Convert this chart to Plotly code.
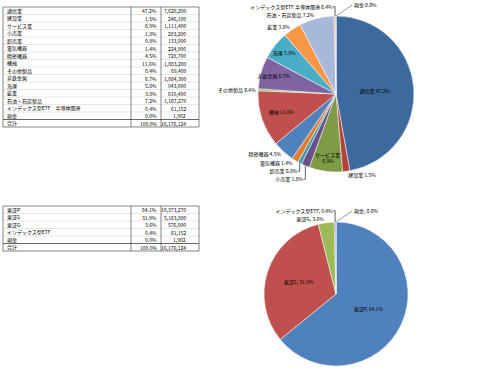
import plotly.graph_objects as go

# Table / pie 1 data
sectors = ["通信業", "建設業", "サービス業", "小売業", "卸売業", "電気機器", "精密機器", "機械",
           "その他製品", "非鉄金属", "海運", "鉱業", "石油・石炭製品", "インデックス型ETF　半導体関連", "現金"]
sector_values = [7628200, 246100, 1111400, 283200, 133000, 224900, 728700, 1883200,
                 69400, 1084300, 943000, 610400, 1167270, 61152, 1902]
sector_colors = ["#3C6A9E", "#B3423F", "#7E9B45", "#6A5089", "#3B9AB3", "#E07F32",
                 "#4F81BD", "#C0504D", "#9BBB59", "#8064A2", "#4BACC6", "#F79646",
                 "#A7B9D9", "#D99795", "#C3D69B"]
sector_textpos = ["inside", "outside", "inside", "outside", "outside", "outside", "outside", "inside",
                  "outside", "inside", "inside", "outside", "outside", "outside", "none"]

# Table / pie 2 data
markets = ["東証P", "東証S", "東証G", "インデックス型ETF", "現金"]
market_values = [10373270, 5163800, 576000, 61152, 1902]
market_colors = ["#4F81BD", "#C0504D", "#9BBB59", "#8064A2", "#4BACC6"]
market_textpos = ["inside", "inside", "outside", "outside", "none"]

FONT = "Noto Sans CJK JP"
W, H = 480, 382


def px(x):
    return x / W


def py(y):
    return 1 - y / H


def add_table(fig, names, values, ytop, row_h):
    total = sum(values)
    nm = list(names) + ["合計"]
    pcts = [f"{v / total * 100:.1f}%" for v in values] + ["100.0%"]
    vals = [f"{v:,}" for v in values] + [f"{total:,}"]
    n = len(nm)
    x_left, x_div1, x_div2, x_right = 3, 131, 161, 199
    ybot = ytop + row_h * n
    for i in range(1, n):
        y = ytop + i * row_h
        fig.add_shape(type="line", xref="paper", yref="paper",
                      x0=px(x_left), x1=px(x_right), y0=py(y), y1=py(y),
                      line=dict(color="#000000" if i == n - 1 else "#cfcfcf",
                                width=0.6 if i == n - 1 else 0.5))
    fig.add_shape(type="rect", xref="paper", yref="paper",
                  x0=px(x_left), x1=px(x_right), y0=py(ybot), y1=py(ytop),
                  line=dict(color="#333333", width=0.6), fillcolor="rgba(0,0,0,0)")
    for xd in (x_div1, x_div2):
        fig.add_shape(type="line", xref="paper", yref="paper",
                      x0=px(xd), x1=px(xd), y0=py(ybot), y1=py(ytop),
                      line=dict(color="#333333", width=0.6))
    for i in range(n):
        yc = ytop + (i + 0.5) * row_h
        fig.add_annotation(x=px(x_left + 2), y=py(yc), xref="paper", yref="paper",
                           text=nm[i], showarrow=False, xanchor="left", yanchor="middle",
                           font=dict(family=FONT, size=5, color="black"))
        fig.add_annotation(x=px(x_div2 - 2), y=py(yc), xref="paper", yref="paper",
                           text=pcts[i], showarrow=False, xanchor="right", yanchor="middle",
                           font=dict(family=FONT, size=5, color="black"))
        fig.add_annotation(x=px(x_right - 11), y=py(yc), xref="paper", yref="paper",
                           text=vals[i], showarrow=False, xanchor="right", yanchor="middle",
                           font=dict(family=FONT, size=5, color="black"))


def add_top_label(fig, text, cx, cy, r):
    # label for the last (near-zero) slice, which ends at 12 o'clock
    fig.add_annotation(x=px(cx), y=py(cy - r), xref="paper", yref="paper",
                       text=text, showarrow=True, arrowhead=0, arrowwidth=0.6,
                       arrowcolor="#555555", ax=16, ay=-11, xanchor="left",
                       font=dict(family=FONT, size=5, color="black"))


fig = go.Figure()
add_table(fig, sectors, sector_values, 7, 7.5)
add_table(fig, markets, market_values, 206, 7.5)

pie1_text = [s.replace("　", " ").replace("サービス業", "サービス業<br>") for s in sectors]

# Pie 1
cx, cy, r = 336, 94, 78
fig.add_trace(go.Pie(
    labels=sectors, values=sector_values, text=pie1_text, sort=False,
    direction="clockwise", rotation=0,
    marker=dict(colors=sector_colors, line=dict(color="white", width=0.5)),
    texttemplate="%{text} %{percent:.1%}", textposition=sector_textpos,
    insidetextorientation="horizontal",
    textfont=dict(family=FONT, size=5, color="black"),
    showlegend=False, hoverinfo="label+value+percent", automargin=False,
    domain=dict(x=[px(cx - r), px(cx + r)], y=[py(cy + r), py(cy - r)]),
))
add_top_label(fig, f"{sectors[-1]} {sector_values[-1] / sum(sector_values):.1%}", cx, cy, r)

# Pie 2
cx, cy, r = 336, 294, 72
fig.add_trace(go.Pie(
    labels=markets, values=market_values, sort=False, direction="clockwise", rotation=0,
    marker=dict(colors=market_colors, line=dict(color="white", width=0.5)),
    texttemplate="%{label}, %{percent:.1%}", textposition=market_textpos,
    insidetextorientation="horizontal",
    textfont=dict(family=FONT, size=5, color="black"),
    showlegend=False, hoverinfo="label+value+percent", automargin=False,
    domain=dict(x=[px(cx - r), px(cx + r)], y=[py(cy + r), py(cy - r)]),
))
add_top_label(fig, f"{markets[-1]}, {market_values[-1] / sum(market_values):.1%}", cx, cy, r)

fig.update_layout(width=W, height=H, margin=dict(l=0, r=0, t=0, b=0),
                  paper_bgcolor="white", plot_bgcolor="white",
                  font=dict(family=FONT, size=5),
                  uniformtext=dict(minsize=5, mode="show"))
fig.write_html("out.html", config={"displayModeBar": False},
               post_script="document.body.style.margin='0';")
